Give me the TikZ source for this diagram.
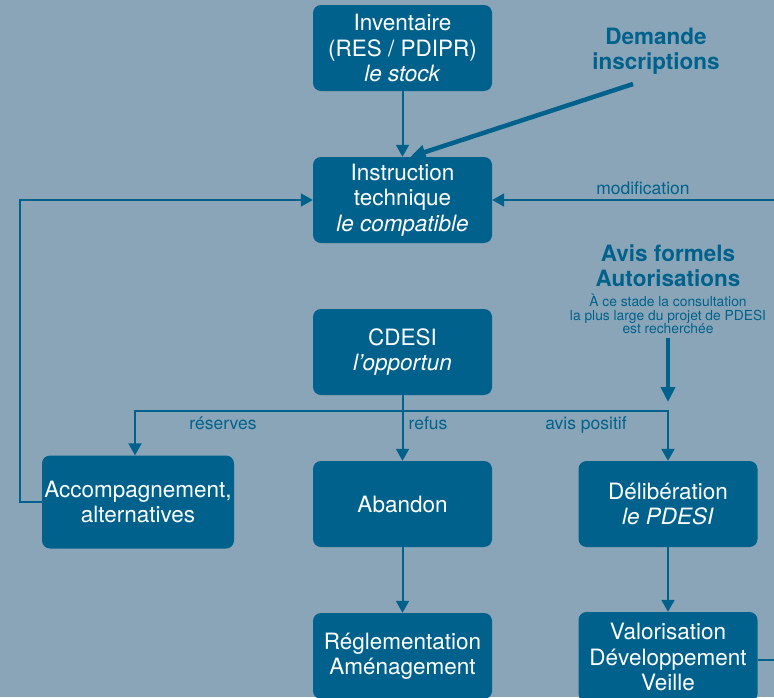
\documentclass[tikz,border=0pt]{standalone}
\usepackage{fontspec}
\setmainfont{TeX Gyre Heros}
\usetikzlibrary{arrows.meta}
\definecolor{pdesiblue}{RGB}{0,98,140}
\definecolor{pdesibg}{RGB}{138,165,184}
\tikzset{
  flow/box/.style={fill=pdesiblue, text=white, rounded corners=8pt, inner sep=0pt,
    minimum width=179pt, minimum height=86pt, align=center,
    font=\fontsize{22.5}{25.5}\selectfont},
  flow/link/.style={pdesiblue, line width=2pt, -{Triangle[width=13pt,length=12pt]}},
  flow/heavy/.style={pdesiblue, line width=4.5pt, -{Triangle[width=14pt,length=15pt]}},
  flow/tag/.style={text=pdesiblue, inner sep=0pt, anchor=base,
    font=\fontsize{17.5}{18}\selectfont},
  flow/head/.style={text=pdesiblue, inner sep=0pt, align=center,
    font=\fontsize{22.5}{25}\selectfont\bfseries},
}

\begin{document}
\begin{tikzpicture}[x=1pt, y=-1pt]
  \useasboundingbox (0,0) rectangle (774,697);
  \fill[pdesibg] (0,0) rectangle (774,697);

  % boxes
  \node[flow/box] (inv) at (402.5,48) {Inventaire\\(RES / PDIPR)\\\textit{le stock}};
  \node[flow/box] (instr) at (402.5,200) {Instruction\\technique\\\textit{le compatible}};
  \node[flow/box] (cdesi) at (402.5,352) {CDESI\\\textit{l'opportun}};
  \node[flow/box, minimum width=192pt, minimum height=93pt] (acc) at (138,502)
    {Accompagnement,\\alternatives};
  \node[flow/box] (aband) at (402.5,504) {Abandon};
  \node[flow/box] (delib) at (668,504) {Délibération\\\textit{le PDESI}};
  \node[flow/box] (regl) at (402.5,656) {Réglementation\\Aménagement};
  \node[flow/box, minimum height=90pt] (valo) at (668,657)
    {Valorisation\\Développement\\Veille};

  % outside texts
  \node[flow/head] (dem) at (656,51) {Demande\\inscriptions};
  \node[flow/head] (avis) at (668,266) {Avis formels\\Autorisations};
  \node[text=pdesiblue, inner sep=0pt, align=center,
    font=\fontsize{13.8}{13.6}\selectfont] (avisnote) at (668,314)
    {À ce stade la consultation\\la plus large du projet de PDESI\\est recherchée};
  \node[flow/tag] (mod) at (643,194) {modification};
  \node[flow/tag] (res) at (223,429) {réserves};
  \node[flow/tag] (ref) at (428,429) {refus};
  \node[flow/tag] (pos) at (586,429) {avis positif};

  % connectors
  \coordinate (demfoot) at (633,84);
  \coordinate (modin) at (774,200);
  \coordinate (avistip) at (668,402);
  \coordinate (fork) at (402.5,411);
  \coordinate (valoout) at (774,660);

  \draw[flow/link] (inv) -- (instr);
  \draw[flow/heavy] (demfoot) -- ([xshift=8pt]instr.north);
  \draw[flow/link] (modin) -- (instr.east);
  \draw[flow/heavy] (avisnote.south) ++(0,4) -- (avistip);
  \draw[pdesiblue, line width=2pt] (cdesi) -- (fork);
  \draw[flow/link] (fork) -| ([xshift=-3pt]acc.north);
  \draw[flow/link] (fork) -- (aband);
  \draw[flow/link] (fork) -| (delib);
  \draw[flow/link] (acc.west) -- ++(-22,0) |- (instr.west);
  \draw[flow/link] (aband) -- (regl);
  \draw[flow/link] (delib) -- (valo);
  \draw[pdesiblue, line width=2pt] (valo.east |- valoout) -- (valoout);
\end{tikzpicture}
\end{document}
